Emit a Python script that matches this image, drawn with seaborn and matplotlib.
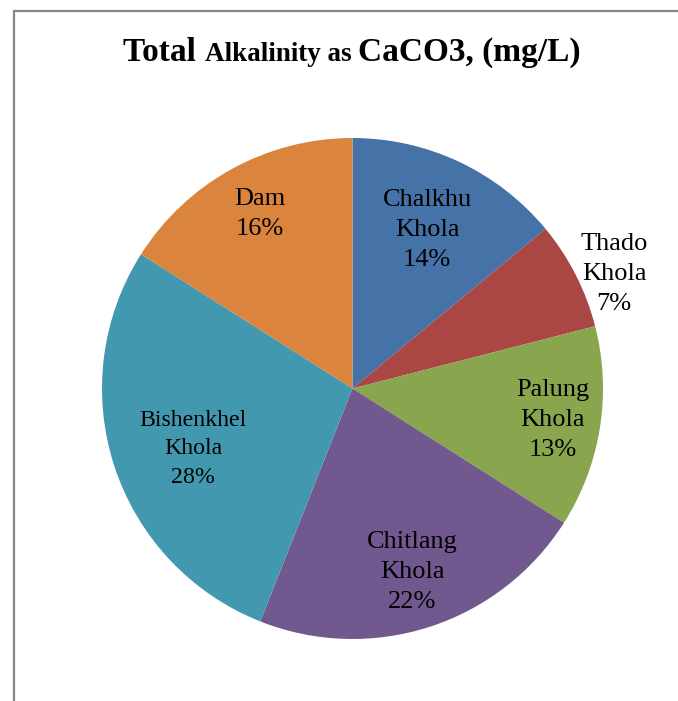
import numpy as np
import matplotlib
matplotlib.use("Agg")
import matplotlib.pyplot as plt
import seaborn as sns

# Sampling sites and their share of total alkalinity
sites = ["Chalkhu\nKhola", "Thado\nKhola", "Palung\nKhola",
         "Chitlang\nKhola", "Bishenkhel\nKhola", "Dam"]
shares = [14, 7, 13, 22, 28, 16]
colors = ["#4572A7", "#AA4643", "#89A54E", "#71588F", "#4198AF", "#DB843D"]
# label placement: radius as a fraction of the pie radius, and a small angular nudge
label_radius = [0.70, 1.14, 0.81, 0.77, 0.68, 0.79]
label_nudge = [0.0, -3.3, 0.0, 0.0, 2.7, -0.9]
label_size = [19, 19, 19, 19, 17.2, 19]

sns.set_theme(style="white")
plt.rcParams["font.family"] = ["Liberation Serif", "DejaVu Serif"]

fig = plt.figure(figsize=(6.78, 7.01), dpi=100)
fig.patch.set_facecolor("white")

# frame lines along the top and left
fig.add_artist(plt.Line2D([14 / 678, 14 / 678], [0, 1 - 11 / 701],
                          color="#868686", lw=1.6, transform=fig.transFigure))
fig.add_artist(plt.Line2D([14 / 678, 1], [1 - 11 / 701, 1 - 11 / 701],
                          color="#868686", lw=1.6, transform=fig.transFigure))

ax = fig.add_axes([102 / 678, (701 - 639) / 701, 501 / 678, 501 / 701])
wedges, _ = ax.pie(shares, colors=colors, startangle=90, counterclock=False,
                   radius=1.0, wedgeprops=dict(linewidth=0))
ax.set_xlim(-1, 1)
ax.set_ylim(-1, 1)
ax.set_aspect("equal")
ax.axis("off")

for w, name, val, rf, nd, fs in zip(wedges, sites, shares, label_radius,
                                    label_nudge, label_size):
    mid = np.deg2rad((w.theta1 + w.theta2) / 2 + nd)
    ax.text(rf * np.cos(mid), rf * np.sin(mid), f"{name}\n{val}%",
            ha="center", va="center", fontsize=fs,
            linespacing=1.47 if fs > 18 else 1.46, color="black")

# title with a smaller middle part
parts = [("Total ", 24), ("Alkalinity as ", 19.5), ("CaCO3, (mg/L)", 24)]
renderer = fig.canvas.get_renderer()
texts = []
for s, fs in parts:
    t = fig.text(0, 1 - 61 / 701, s, fontsize=fs, fontweight="bold",
                 va="baseline", ha="left", color="black")
    texts.append(t)
widths = [t.get_window_extent(renderer).width for t in texts]
total = sum(widths)
x = 352 - total / 2
for t, wdt in zip(texts, widths):
    t.set_x(x / 678)
    x += wdt

fig.savefig("out.png", dpi=100)
